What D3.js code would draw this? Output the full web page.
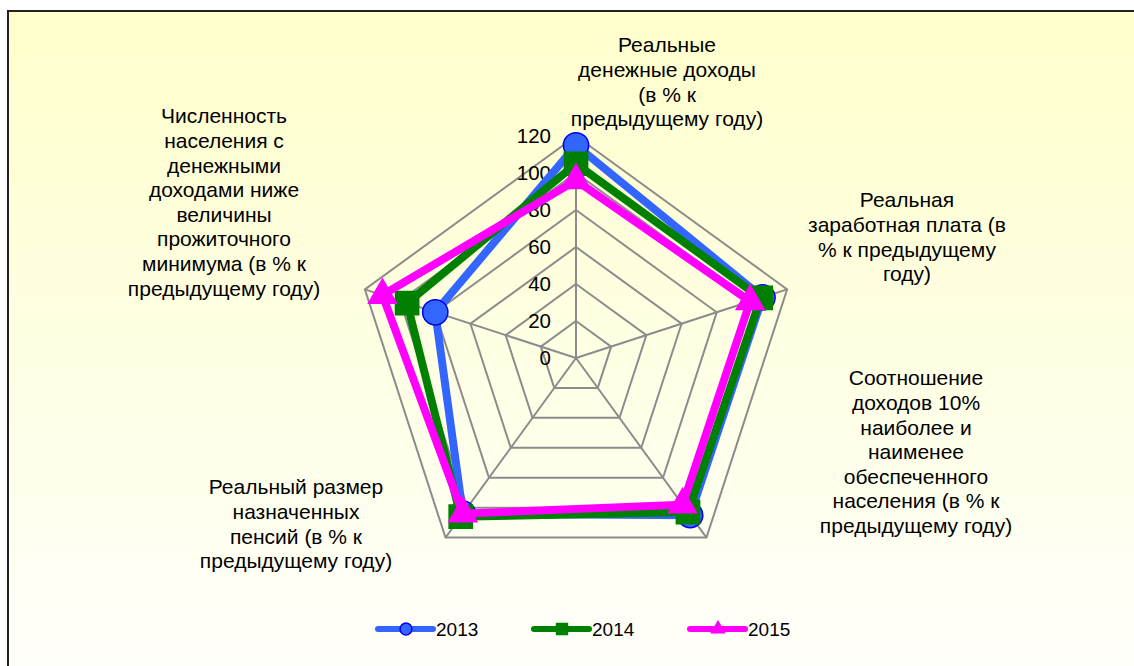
<!DOCTYPE html>
<html>
<head>
<meta charset="utf-8">
<script src="https://cdn.jsdelivr.net/npm/d3@7"></script>
<style>
  body { margin: 0; background: #fff; }
  text { font-family: "Liberation Sans", Arial, sans-serif; fill: #000; }
</style>
</head>
<body>
<div id="chart"></div>
<script>
// chart data
var categories = [
  ["Реальные", "денежные доходы", "(в % к", "предыдущему году)"],
  ["Реальная", "заработная плата (в", "% к предыдущему", "году)"],
  ["Соотношение", "доходов 10%", "наиболее и", "наименее", "обеспеченного", "населения (в % к", "предыдущему году)"],
  ["Реальный размер", "назначенных", "пенсий (в % к", "предыдущему году)"],
  ["Численность", "населения с", "денежными", "доходами ниже", "величины", "прожиточного", "минимума (в % к", "предыдущему году)"]
];
var years = ["2013", "2014", "2015"];
var values2013 = [115, 106, 105, 104, 80];
var values2014 = [105, 105, 103, 106, 96];
var values2015 = [96, 99, 98, 104, 110];
var tickValues = [0, 20, 40, 60, 80, 100, 120];

var svgWidth = 1134;
var svgHeight = 666;
var cx = 576, cy = 358;

var svg = d3.select("#chart")
  .append("svg")
  .attr("width", svgWidth)
  .attr("height", svgHeight);

var defs = svg.append("defs");
var grad = defs.append("linearGradient")
  .attr("id", "bg")
  .attr("x1", 0).attr("y1", 0).attr("x2", 0).attr("y2", 1);
grad.append("stop").attr("offset", "0%").attr("stop-color", "#ffffcc");
grad.append("stop").attr("offset", "100%").attr("stop-color", "#fffffb");

// chart area with frame
svg.append("rect")
  .attr("x", 8).attr("y", 11)
  .attr("width", svgWidth).attr("height", svgHeight)
  .attr("fill", "url(#bg)")
  .attr("stroke", "#222")
  .attr("stroke-width", 2);

var rScale = d3.scaleLinear().domain([0, 120]).range([0, 222]);
var aScale = d3.scaleLinear().domain([0, categories.length]).range([0, 2 * Math.PI]);

function pt(i, v) {
  var a = aScale(i);
  return [cx + rScale(v) * Math.sin(a), cy - rScale(v) * Math.cos(a)];
}

var g = svg.append("g");

// grid rings
var ringLine = d3.lineRadial()
  .angle(function(d, i) { return aScale(i); })
  .radius(function(d) { return rScale(d); })
  .curve(d3.curveLinearClosed);

tickValues.slice(1).forEach(function(t) {
  g.append("path")
    .attr("transform", "translate(" + cx + "," + cy + ")")
    .attr("d", ringLine(categories.map(function() { return t; })))
    .attr("fill", "none")
    .attr("stroke", "#8c8c8c")
    .attr("stroke-width", 2);
});

// spokes
categories.forEach(function(c, i) {
  var p = pt(i, 120);
  g.append("line")
    .attr("x1", cx).attr("y1", cy)
    .attr("x2", p[0]).attr("y2", p[1])
    .attr("stroke", "#8c8c8c")
    .attr("stroke-width", 2);
});

// tick labels
g.selectAll(".tick")
  .data(tickValues)
  .enter()
  .append("text")
  .attr("x", cx - 25)
  .attr("y", function(d) { return cy - rScale(d); })
  .attr("dy", "0.35em")
  .attr("text-anchor", "end")
  .attr("font-size", 20.5)
  .text(function(d) { return d; });

// category labels
var labelPos = [[667, 45], [907, 200], [916, 378], [296, 487], [224, 116]];
categories.forEach(function(lines, i) {
  var t = g.append("text")
    .attr("text-anchor", "middle")
    .attr("font-size", 21);
  lines.forEach(function(s, j) {
    t.append("tspan")
      .attr("x", labelPos[i][0])
      .attr("y", labelPos[i][1] + j * 24.6)
      .attr("dy", "0.35em")
      .text(s);
  });
});

// series
var series = [
  { name: years[0], values: values2013, color: "#3366ff", stroke: "#0000ee", symbol: d3.symbolCircle, size: 500 },
  { name: years[1], values: values2014, color: "#008000", stroke: "#008000", symbol: d3.symbolSquare, size: 540 },
  { name: years[2], values: values2015, color: "#ff00ff", stroke: "#ff00ff", symbol: d3.symbolTriangle, size: 340 }
];

var seriesLine = d3.lineRadial()
  .angle(function(d, i) { return aScale(i); })
  .radius(function(d) { return rScale(d); })
  .curve(d3.curveLinearClosed);

series.forEach(function(s) {
  var sg = g.append("g");
  sg.append("path")
    .attr("transform", "translate(" + cx + "," + cy + ")")
    .attr("d", seriesLine(s.values))
    .attr("fill", "none")
    .attr("stroke", s.color)
    .attr("stroke-width", 8)
    .attr("stroke-linejoin", "miter");
  sg.selectAll("path.mark")
    .data(s.values)
    .enter()
    .append("path")
    .attr("class", "mark")
    .attr("transform", function(d, i) { var p = pt(i, d); return "translate(" + p[0] + "," + p[1] + ")"; })
    .attr("d", d3.symbol().type(s.symbol).size(s.size))
    .attr("fill", s.color)
    .attr("stroke", s.stroke)
    .attr("stroke-width", 1.5);
});

// legend
var legendX = [378, 534, 690];
var legend = svg.append("g");
series.forEach(function(s, i) {
  var x0 = legendX[i], ly = 629;
  legend.append("line")
    .attr("x1", x0).attr("y1", ly)
    .attr("x2", x0 + 55).attr("y2", ly)
    .attr("stroke", s.color)
    .attr("stroke-width", 6)
    .attr("stroke-linecap", "round");
  legend.append("path")
    .attr("transform", "translate(" + (x0 + 28) + "," + ly + ")")
    .attr("d", d3.symbol().type(s.symbol).size(s.size * 0.22))
    .attr("fill", s.color)
    .attr("stroke", s.stroke)
    .attr("stroke-width", 1.5);
  legend.append("text")
    .attr("x", x0 + 58)
    .attr("y", ly)
    .attr("dy", "0.35em")
    .attr("font-size", 19)
    .text(s.name);
});
</script>
</body>
</html>
